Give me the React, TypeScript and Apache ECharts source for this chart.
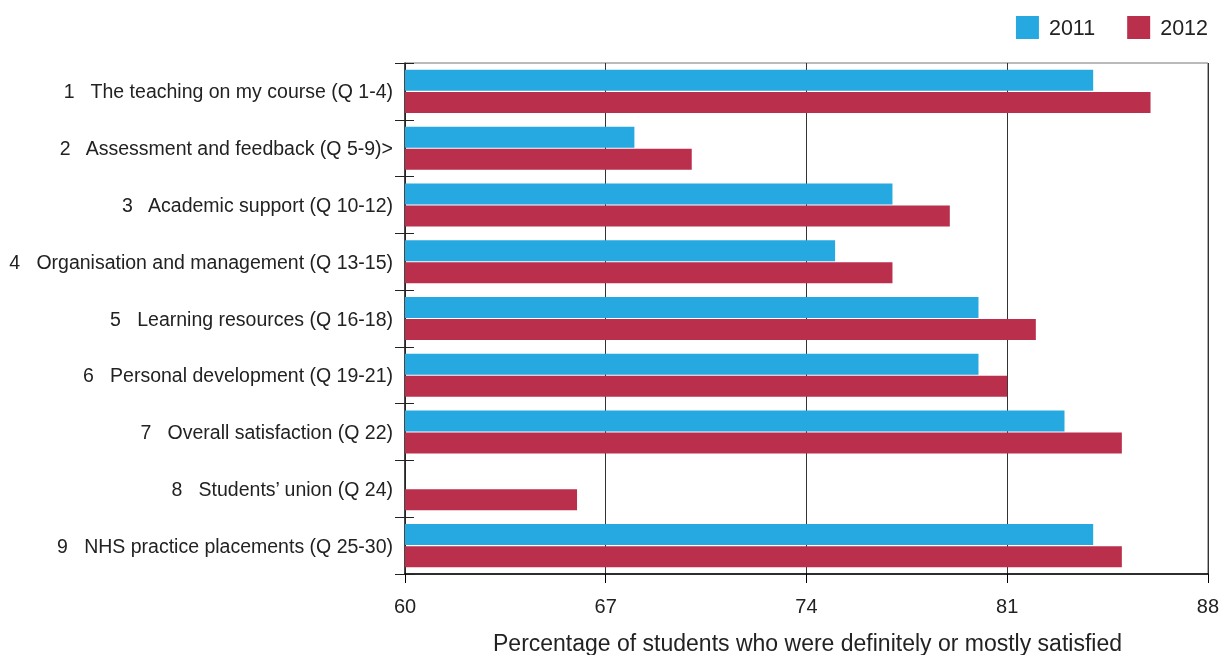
import React, { useEffect, useRef } from "react";
import * as echarts from "echarts";

const categories = [
  "1   The teaching on my course (Q 1-4)",
  "2   Assessment and feedback (Q 5-9)>",
  "3   Academic support (Q 10-12)",
  "4   Organisation and management (Q 13-15)",
  "5   Learning resources (Q 16-18)",
  "6   Personal development (Q 19-21)",
  "7   Overall satisfaction (Q 22)",
  "8   Students\u2019 union (Q 24)",
  "9   NHS practice placements (Q 25-30)",
];
const values2011: (number | null)[] = [84, 68, 77, 75, 80, 80, 83, null, 84];
const values2012: (number | null)[] = [86, 70, 79, 77, 82, 81, 85, 66, 85];
const axisMin = 60;
const axisMax = 88;
const axisStep = 7;
const axisTitle = "Percentage of students who were definitely or mostly satisfied";

const FONT = "'Liberation Sans', Arial, Helvetica, sans-serif";

export default function App() {
  const ref = useRef<HTMLDivElement>(null);
  useEffect(() => {
    document.body.style.margin = "0";
    if (!ref.current) return;
    const chart = echarts.init(ref.current, null, { renderer: "svg" });
    const shift = (arr: (number | null)[]) => arr.map((v) => (v == null ? null : v - axisMin));
    chart.setOption({
      animation: false,
      textStyle: { fontFamily: FONT },
      grid: {
        left: 405,
        right: 12,
        top: 63,
        bottom: 81,
        show: true,
        borderColor: "#777",
        borderWidth: 1,
      },
      legend: {
        top: 16,
        right: 14,
        padding: 0,
        itemWidth: 23,
        itemHeight: 23,
        itemGap: 32,
        icon: "rect",
        textStyle: { fontSize: 21.5, color: "#222", fontFamily: FONT, padding: [0, 0, 0, 5] },
        data: ["2011", "2012"],
      },
      xAxis: {
        type: "value",
        min: 0,
        max: axisMax - axisMin,
        interval: axisStep,
        axisLine: { show: true, lineStyle: { color: "#000", width: 1.5 } },
        axisTick: { show: true, length: 9, lineStyle: { color: "#000" } },
        axisLabel: {
          fontSize: 20,
          color: "#222",
          margin: 22,
          fontFamily: FONT,
          formatter: (v: number) => String(v + axisMin),
        },
        splitLine: { show: true, lineStyle: { color: "#333", width: 1 } },
      },
      yAxis: [
        {
          type: "category",
          data: categories,
          inverse: true,
          axisLine: { show: true, lineStyle: { color: "#222", width: 1.5 } },
          axisTick: { show: true, length: 10, lineStyle: { color: "#222" } },
          axisLabel: {
            fontSize: 19.5,
            color: "#222",
            margin: 12,
            fontFamily: FONT,
          },
          splitLine: { show: false },
        },
        {
          type: "category",
          data: categories,
          inverse: true,
          position: "left",
          axisLine: { show: false },
          axisTick: { show: true, inside: true, length: 9, lineStyle: { color: "#222" } },
          axisLabel: { show: false },
          splitLine: { show: false },
        },
      ],
      series: [
        {
          name: "2011",
          type: "bar",
          data: shift(values2011),
          itemStyle: { color: "#26A9E0" },
          barWidth: 21,
          barGap: "5%",
        },
        {
          name: "2012",
          type: "bar",
          data: shift(values2012),
          itemStyle: { color: "#BA2F4C" },
          barWidth: 21,
          barGap: "5%",
        },
      ],
      graphic: [
        {
          type: "text",
          left: 493,
          top: 631,
          style: { text: axisTitle, fontSize: 23, fill: "#222", fontFamily: FONT },
        },
      ],
    });
    return () => chart.dispose();
  }, []);
  return (
    <div
      ref={ref}
      style={{ position: "fixed", left: 0, top: 0, width: 1222, height: 655 }}
    />
  );
}
